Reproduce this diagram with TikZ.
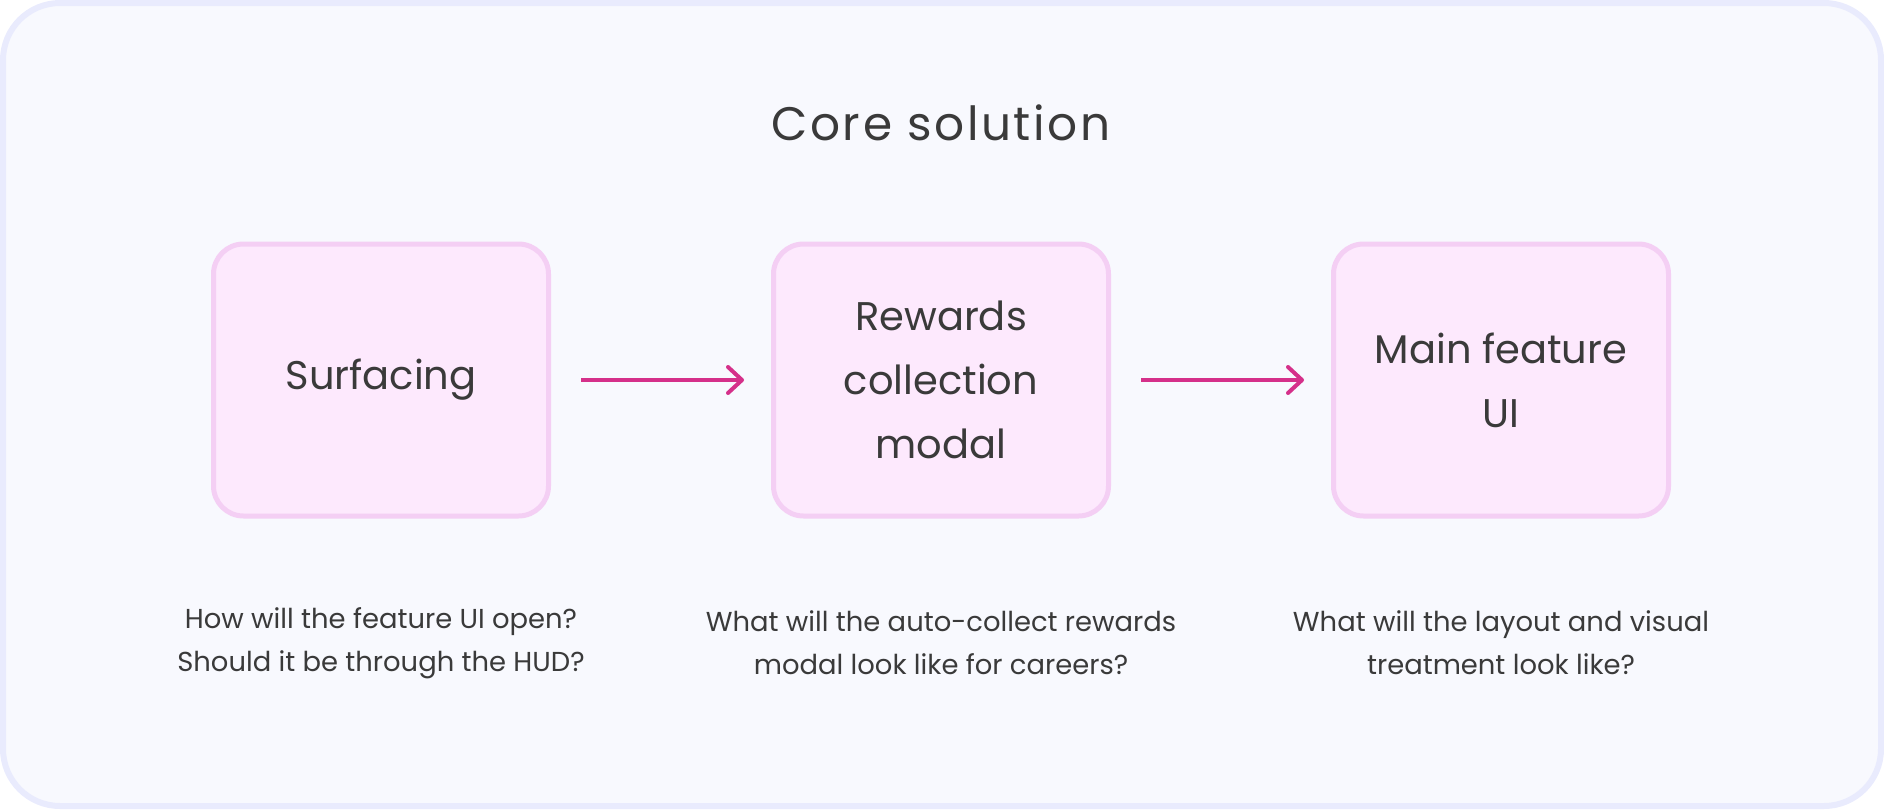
\documentclass[tikz,border=0pt]{standalone}
\usepackage{fontspec}
\setmainfont{Poppins}
\newfontfamily\titlefont[LetterSpace=5.5]{Poppins}
\usetikzlibrary{arrows.meta}
\definecolor{framefill}{RGB}{248,249,254}
\definecolor{frameline}{RGB}{233,235,253}
\definecolor{boxfill}{RGB}{253,233,253}
\definecolor{boxline}{RGB}{244,207,244}
\definecolor{inktext}{RGB}{58,58,58}
\definecolor{flowpink}{RGB}{213,48,138}

\begin{document}
\begin{tikzpicture}[x=0.5pt,y=-0.5pt,
    stage/.style={draw=boxline, fill=boxfill, line width=2.5pt, rounded corners=15pt,
        minimum width=167.5pt, minimum height=136pt, align=center, text=inktext,
        font=\fontsize{20pt}{32pt}\selectfont},
    question/.style={align=center, text=inktext, font=\fontsize{13.7pt}{21.5pt}\selectfont},
    flow/.style={draw=flowpink, line width=2pt, -{Straight Barb[length=7pt,width=13pt,round]},
        shorten <=15pt, shorten >=13.5pt}]

    \useasboundingbox (0,0) rectangle (1884,809);

    % frame
    \draw[draw=frameline, fill=framefill, line width=3pt, rounded corners=28.5pt] (3,3) rectangle (1881,806);

    \node[text=inktext, font=\titlefont\fontsize{23.5pt}{23.5pt}\selectfont] (title) at (941,123) {Core solution};

    % stages
    \node[stage] (surf) at (381,380) {Surfacing};
    \node[stage] (modal) at (941,380) {Rewards\\collection\\modal};
    \node[stage] (mainui) at (1501,380) {Main feature\\UI};

    \draw[flow] (surf) -- (modal); % surfacing -> modal
    \draw[flow] (modal) -- (mainui); % modal -> main UI

    % open questions
    \node[question] (q1) at (381,643) {How will the feature UI open?\\Should it be through the HUD?};
    \node[question] (q2) at (941,643) {What will the auto-collect rewards\\modal look like for careers?};
    \node[question] (q3) at (1501,643) {What will the layout and visual\\treatment look like?};

\end{tikzpicture}
\end{document}
